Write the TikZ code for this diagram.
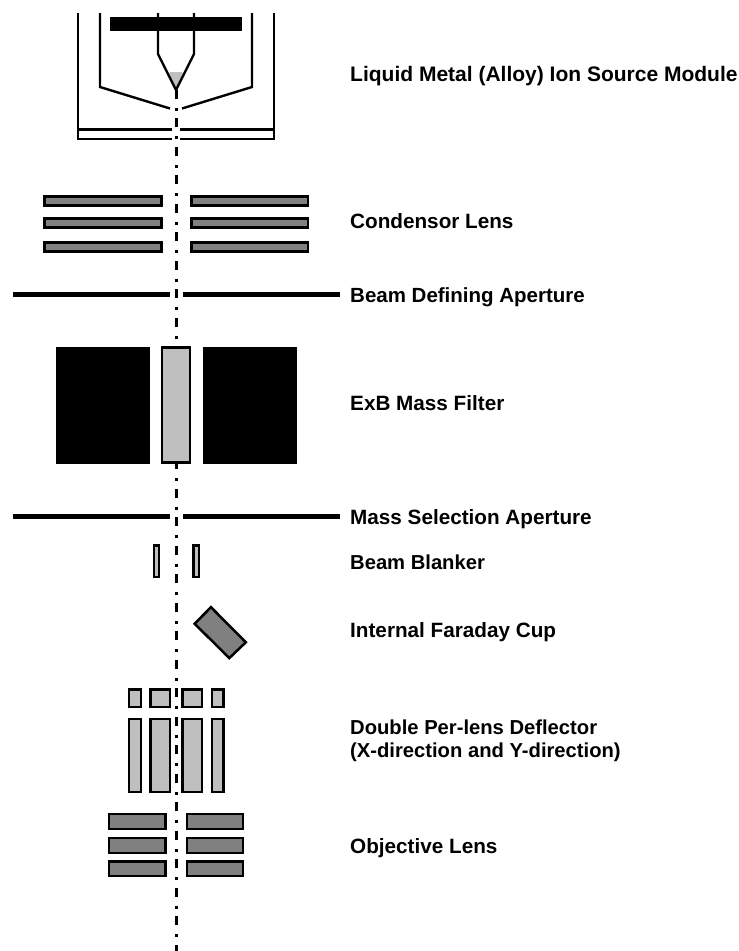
\documentclass[tikz,border=0pt]{standalone}
\usepackage{fontspec}
\setmainfont{Liberation Sans}
\begin{document}
\begin{tikzpicture}[
  x=1pt, y=-1pt,
  wire/.style={line width=2.4pt, black},
  plate/.style={draw=black, line width=2.5pt, fill=black!50},
  electrode/.style={draw=black, line width=2.5pt, fill=black!25},
  aperture/.style={line width=5pt, black},
  magnet/.style={fill=black},
  beamaxis/.style={line width=3pt, black, dash pattern=on 9pt off 9pt on 3pt off 7.5pt},
  tag/.style={anchor=base west, inner sep=0pt, font=\fontsize{20.7}{23}\selectfont\bfseries}
]
  \useasboundingbox (0,0) rectangle (739,951);
  % Source module
  \fill[black!25] (176,90) -- (167.5,73.5) -- (171,72) -- (181,72) -- (184.5,73.5) -- cycle;
  \draw[wire] (78,13) -- (78,139) -- (172,139);
  \draw[wire] (274,13) -- (274,139) -- (180,139);
  \draw[wire] (78,129.5) -- (172,129.5);
  \draw[wire] (274,129.5) -- (180,129.5);
  \draw[wire] (100,13) -- (100,87) -- (170,108.5);
  \draw[wire] (252,13) -- (252,87) -- (182,108.5);
  \draw[wire] (158,13) -- (158,54) -- (176,90) -- (194,54) -- (194,13);
  \fill[magnet] (110,17) rectangle (242,31);
  % Beam axis
  \draw[beamaxis] (176.2,89.5) -- (176.2,951);
  % Condensor lens
  \foreach \y in {196.25, 218.25, 242.4} {
    \draw[plate] (44.6,\y) rectangle ++(116.8,9.2);
    \draw[plate] (191.3,\y) rectangle ++(116.6,9.2);
  }
  % Apertures
  \foreach \y in {294,516} {
    \draw[aperture] (13,\y) -- (170,\y);
    \draw[aperture] (183,\y) -- (340,\y);
  }
  % Mass filter
  \fill[magnet] (56,347) rectangle (150,464);
  \fill[magnet] (203,347) rectangle (297,464);
  \draw[electrode] (162.2,347.5) rectangle (190,462.5);
  % Beam blanker
  \draw[electrode, line width=2.2pt] (153.8,545.4) rectangle (159,577.2);
  \draw[electrode, line width=2.2pt] (193.4,545.4) rectangle (198.6,577.2);
  % Faraday cup
  \draw[plate, line join=miter] (211,607.2) -- (245.8,642.3) -- (229.3,658.1) -- (194.6,623.7) -- cycle;
  % Deflector
  \foreach \xa/\xb in {129/140.8, 150.6/170, 182.3/201.8, 212/223.5} {
    \draw[electrode] (\xa,689.6) rectangle (\xb,706.8);
    \draw[electrode] (\xa,719) rectangle (\xb,792);
  }
  % Objective lens
  \foreach \y in {814, 838, 861.3} {
    \draw[plate] (109,\y) rectangle ++(56.5,14.8);
    \draw[plate] (187,\y) rectangle ++(56,14.8);
  }
  % Labels
  \node[tag, font=\fontsize{21}{23}\selectfont\bfseries] (source) at (350,81) {Liquid Metal (Alloy) Ion Source Module};
  \node[tag] (condensor) at (350,228) {Condensor Lens};
  \node[tag, font=\fontsize{20.5}{23}\selectfont\bfseries] (defining) at (350,302) {Beam Defining Aperture};
  \node[tag] (filter) at (350,410) {ExB Mass Filter};
  \node[tag] (selection) at (350,524) {Mass Selection Aperture};
  \node[tag, font=\fontsize{20.2}{23}\selectfont\bfseries] (blanker) at (350,569) {Beam Blanker};
  \node[tag] (cup) at (350,637) {Internal Faraday Cup};
  \node[tag, font=\fontsize{20.2}{23}\selectfont\bfseries] (deflector) at (350,734) {Double Per-lens Deflector};
  \node[tag, font=\fontsize{20.2}{23}\selectfont\bfseries] (directions) at (350,757) {(X-direction and Y-direction)};
  \node[tag] (objective) at (350,853) {Objective Lens};
\end{tikzpicture}
\end{document}
